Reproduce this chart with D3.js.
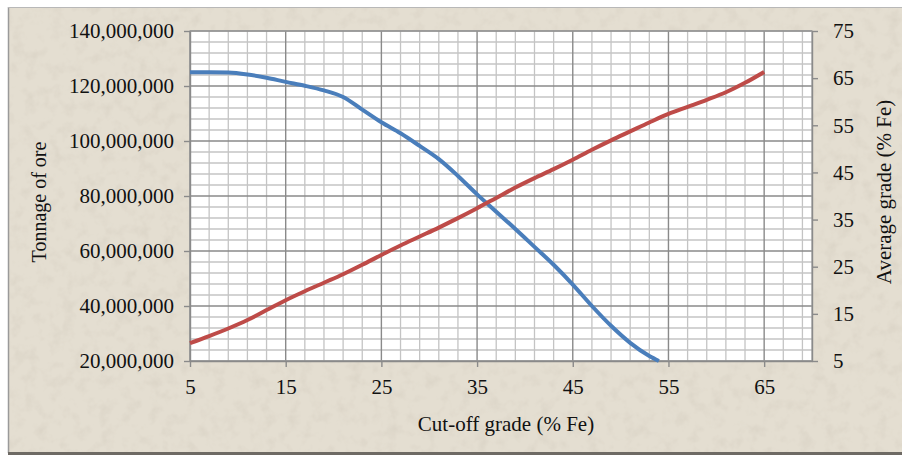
<!DOCTYPE html>
<html>
<head>
<meta charset="utf-8">
<script src="https://cdn.jsdelivr.net/npm/d3@7/dist/d3.min.js"></script>
<style>
  html, body { margin: 0; padding: 0; background: #fff; }
  svg { display: block; }
  text { font-family: "Liberation Serif", "DejaVu Serif", serif; fill: #111; }
</style>
</head>
<body>
<div id="chart"></div>
<script>
// --- data ---
const tonnageCutoff = [5, 7, 9, 11, 13, 15, 17, 19, 21, 23, 25, 27, 29, 31, 33, 35, 37, 39, 41, 43, 45, 47, 49, 51, 53, 54];
const tonnageOre    = [125.0, 125.0, 124.9, 124.2, 123.0, 121.5, 120.1, 118.4, 116.0, 111.4, 106.8, 102.8, 98.2, 93.4,
                       87.3, 80.6, 74.3, 68.0, 61.5, 55.0, 47.8, 40.0, 32.8, 26.6, 21.8, 20.0].map(v => v * 1e6);

const gradeCutoff = [5, 7, 9, 11, 13, 15, 17, 19, 21, 23, 25, 27, 29, 31, 33, 35, 37, 39, 41, 43, 45, 47, 49, 51, 53, 55, 57, 59, 61, 63, 65];
const avgGrade    = [8.8, 10.3, 11.9, 13.7, 15.8, 17.9, 19.8, 21.6, 23.4, 25.4, 27.5, 29.5, 31.4, 33.3, 35.3, 37.4,
                     39.6, 41.8, 43.8, 45.7, 47.7, 49.8, 51.8, 53.7, 55.6, 57.4, 58.9, 60.4, 62.0, 64.0, 66.3];

const xTicks      = [5, 15, 25, 35, 45, 55, 65];
const leftTicks   = [20e6, 40e6, 60e6, 80e6, 100e6, 120e6, 140e6];
const rightTicks  = [5, 15, 25, 35, 45, 55, 65, 75];

const W = 902, H = 455;
const margin = { top: 31, right: 90, bottom: 94, left: 190 };
const pw = W - margin.left - margin.right;   // 622
const ph = H - margin.top - margin.bottom;   // 330

const svg = d3.select("#chart").append("svg")
  .attr("width", W).attr("height", H);

// paper texture
const defs = svg.append("defs");
const f = defs.append("filter").attr("id", "paper")
  .attr("x", 0).attr("y", 0).attr("width", "100%").attr("height", "100%");
f.append("feTurbulence").attr("type", "fractalNoise")
  .attr("baseFrequency", 0.08).attr("numOctaves", 3).attr("seed", 7).attr("result", "noise");
f.append("feColorMatrix").attr("in", "noise").attr("type", "matrix")
  .attr("values", "0 0 0 0 0.55  0 0 0 0 0.50  0 0 0 0 0.42  0 0 0 -1.6 0.85");
f.append("feComposite").attr("in2", "SourceGraphic").attr("operator", "in");

svg.append("rect").attr("x", 8).attr("y", 7).attr("width", W - 8).attr("height", 446)
  .attr("fill", "#e4ded1");
svg.append("rect").attr("x", 8).attr("y", 7).attr("width", W - 8).attr("height", 446)
  .attr("fill", "#e4ded1").attr("filter", "url(#paper)").attr("opacity", 0.35);
// frame
svg.append("line").attr("x1", 8.5).attr("x2", 8.5).attr("y1", 7).attr("y2", 453)
  .attr("stroke", "#9a9a9a").attr("stroke-width", 1.5);
svg.append("line").attr("x1", 8).attr("x2", W).attr("y1", 7.5).attr("y2", 7.5)
  .attr("stroke", "#b8b8b8").attr("stroke-width", 1);
svg.append("line").attr("x1", 8).attr("x2", W).attr("y1", 453.5).attr("y2", 453.5)
  .attr("stroke", "#6e6a64").attr("stroke-width", 3);

const g = svg.append("g").attr("transform", `translate(${margin.left},${margin.top})`);

const x  = d3.scaleLinear().domain([5, 70]).range([0, pw]);
const yL = d3.scaleLinear().domain([20e6, 140e6]).range([ph, 0]);
const yR = d3.scaleLinear().domain([5, 75]).range([ph, 0]);

g.append("rect").attr("width", pw).attr("height", ph).attr("fill", "#fff");

// minor grid
const xMinor = d3.range(7, 70, 2).filter(v => (v - 5) % 10 !== 0);
const yMinor = d3.range(24e6, 140e6, 4e6).filter(v => v % 20e6 !== 0);
g.append("g").selectAll("line").data(xMinor).join("line")
  .attr("x1", d => x(d)).attr("x2", d => x(d)).attr("y1", 0).attr("y2", ph)
  .attr("stroke", "#c4c4c4").attr("stroke-width", 1.3);
g.append("g").selectAll("line").data(yMinor).join("line")
  .attr("y1", d => yL(d)).attr("y2", d => yL(d)).attr("x1", 0).attr("x2", pw)
  .attr("stroke", "#c4c4c4").attr("stroke-width", 1.3);
// major grid
g.append("g").selectAll("line").data(xTicks).join("line")
  .attr("x1", d => x(d)).attr("x2", d => x(d)).attr("y1", 0).attr("y2", ph)
  .attr("stroke", "#8a8a8a").attr("stroke-width", 1.4);
g.append("g").selectAll("line").data(leftTicks).join("line")
  .attr("y1", d => yL(d)).attr("y2", d => yL(d)).attr("x1", 0).attr("x2", pw)
  .attr("stroke", "#8a8a8a").attr("stroke-width", 1.4);
g.append("rect").attr("width", pw).attr("height", ph)
  .attr("fill", "none").attr("stroke", "#9a9a9a").attr("stroke-width", 1.2);

// axes
function styleAxis(sel) {
  sel.select(".domain").attr("stroke", "#8a8a8a").attr("stroke-width", 1.4);
  sel.selectAll(".tick line").attr("stroke", "#8a8a8a").attr("stroke-width", 1.4);
  sel.selectAll(".tick text").style("font-size", "21px").attr("fill", "#111");
}

g.append("g").attr("transform", `translate(0,${ph})`)
  .call(d3.axisBottom(x).tickValues(xTicks).tickSize(6).tickPadding(12).tickSizeOuter(0))
  .call(styleAxis);

g.append("g")
  .call(d3.axisLeft(yL).tickValues(leftTicks).tickSize(6).tickPadding(10).tickSizeOuter(0)
          .tickFormat(d3.format(",")))
  .call(styleAxis);

g.append("g").attr("transform", `translate(${pw},0)`)
  .call(d3.axisRight(yR).tickValues(rightTicks).tickSize(6).tickPadding(15).tickSizeOuter(0))
  .call(styleAxis);

// series
const tonLine = d3.line()
  .x((d, i) => x(tonnageCutoff[i])).y(d => yL(d))
  .curve(d3.curveMonotoneX);
const gradeLine = d3.line()
  .x((d, i) => x(gradeCutoff[i])).y(d => yR(d))
  .curve(d3.curveMonotoneX);

g.append("path").datum(tonnageOre).attr("d", tonLine)
  .attr("fill", "none").attr("stroke", "#4a7ebb").attr("stroke-width", 4)
  .attr("stroke-linejoin", "round");
g.append("path").datum(avgGrade).attr("d", gradeLine)
  .attr("fill", "none").attr("stroke", "#be4b48").attr("stroke-width", 4)
  .attr("stroke-linejoin", "round");

// titles
svg.append("text").attr("transform", "translate(46,202) rotate(-90)")
  .attr("text-anchor", "middle").style("font-size", "20px").text("Tonnage of ore");
svg.append("text").attr("transform", "translate(891,192) rotate(-90)")
  .attr("text-anchor", "middle").style("font-size", "21px").text("Average grade (% Fe)");
svg.append("text").attr("x", 506).attr("y", 431)
  .attr("text-anchor", "middle").style("font-size", "21px").text("Cut-off grade (% Fe)");
</script>
</body>
</html>
